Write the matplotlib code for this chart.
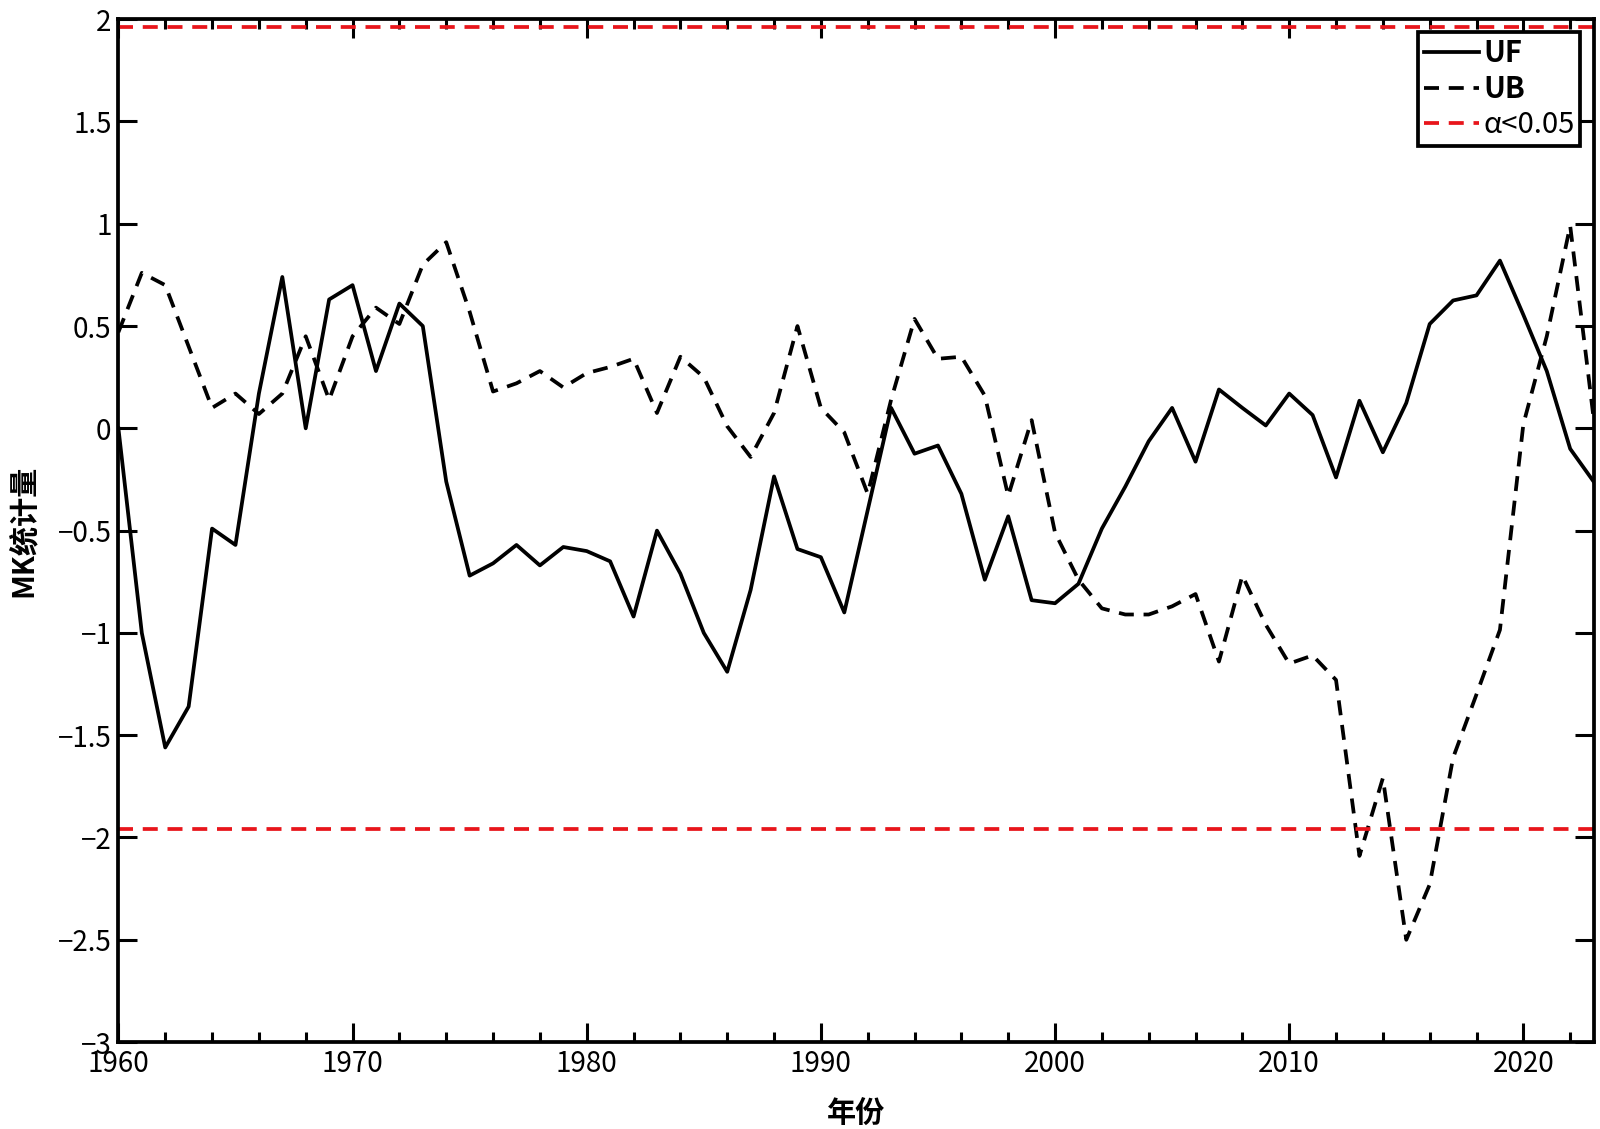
import matplotlib
matplotlib.use('Agg')
import matplotlib.pyplot as plt
from matplotlib.ticker import MultipleLocator, FuncFormatter

plt.rcParams['font.family'] = ['Noto Sans CJK SC', 'DejaVu Sans']
plt.rcParams['axes.unicode_minus'] = True

# Data.
years = list(range(1960, 2024))

uf = [0.00, -1.00, -1.56, -1.36, -0.49, -0.57, 0.17, 0.74, 0.00, 0.63,
      0.70, 0.28, 0.61, 0.50, -0.26, -0.72, -0.66, -0.57, -0.67, -0.58,
      -0.60, -0.65, -0.92, -0.50, -0.71, -1.00, -1.19, -0.79, -0.235, -0.59,
      -0.63, -0.90, -0.40, 0.10, -0.124, -0.084, -0.32, -0.74, -0.43, -0.84,
      -0.855, -0.76, -0.49, -0.285, -0.063, 0.10, -0.163, 0.19, 0.10, 0.014,
      0.17, 0.065, -0.24, 0.135, -0.117, 0.124, 0.51, 0.625, 0.65, 0.82,
      0.555, 0.28, -0.10, -0.26]

ub = [0.47, 0.76, 0.70, 0.40, 0.10, 0.17, 0.07, 0.17, 0.45, 0.14,
      0.45, 0.59, 0.51, 0.80, 0.91, 0.57, 0.18, 0.22, 0.28, 0.20,
      0.27, 0.30, 0.34, 0.075, 0.35, 0.25, 0.01, -0.14, 0.075, 0.50,
      0.10, -0.02, -0.32, 0.14, 0.535, 0.34, 0.35, 0.16, -0.33, 0.04,
      -0.51, -0.74, -0.88, -0.91, -0.91, -0.87, -0.81, -1.14, -0.72, -0.96,
      -1.15, -1.11, -1.23, -2.09, -1.71, -2.50, -2.23, -1.61, -1.30, -0.985,
      0.02, 0.45, 0.99, 0.05]

crit = 1.96

fig = plt.figure(figsize=(16, 11.29), dpi=100)
ax = fig.add_axes([0.074, 0.077, 0.922, 0.906])

dash = (4, 2.6)
ax.plot(years, uf, color='k', linestyle='-', linewidth=2.7, label='UF')
ax.plot(years, ub, color='k', linestyle=(0, dash), linewidth=2.7, label='UB')
ax.axhline(crit, color='#e8151b', linestyle=(0, dash), linewidth=2.7,
           label='α<0.05')
ax.axhline(-crit, color='#e8151b', linestyle=(0, dash), linewidth=2.7)

ax.set_xlim(1960, 2023)
ax.set_ylim(-3, 2)
ax.xaxis.set_major_locator(MultipleLocator(10))
ax.xaxis.set_minor_locator(MultipleLocator(2))
ax.yaxis.set_major_locator(MultipleLocator(0.5))
ax.yaxis.set_major_formatter(
    FuncFormatter(lambda v, p: ('%g' % v).replace('-', '\u2212')))

ax.tick_params(which='both', direction='in', top=True, right=True,
               labelsize=20, width=2.2)
ax.tick_params(which='major', length=14, pad=5)
ax.tick_params(which='minor', length=7)
for s in ax.spines.values():
    s.set_linewidth(2.7)

ax.set_xlabel('年份', fontsize=21, fontweight='bold', labelpad=14)
ax.set_ylabel('MK统计量', fontsize=21, fontweight='bold', labelpad=14)

leg = ax.legend(loc='upper right', fontsize=21, frameon=True, fancybox=False,
                edgecolor='k', handlelength=1.9, handletextpad=0.15,
                borderpad=0.2, labelspacing=0.2, borderaxespad=0.45,
                framealpha=1)
leg.get_frame().set_linewidth(2.7)
for t in leg.get_texts()[:2]:
    t.set_fontweight('bold')

fig.savefig('out.png', dpi=100)
